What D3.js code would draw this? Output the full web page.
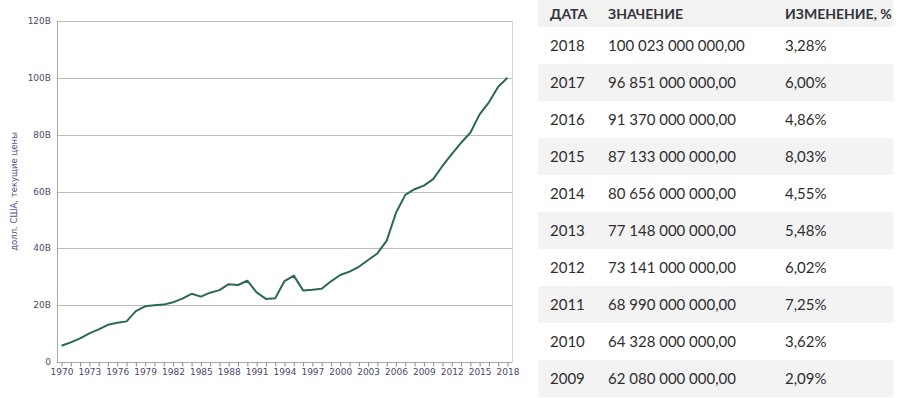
<!DOCTYPE html>
<html>
<head>
<meta charset="utf-8">
<script src="https://cdn.jsdelivr.net/npm/d3@7"></script>
<style>
  html, body { margin: 0; padding: 0; background: #fff; }
  svg { display: block; }
</style>
</head>
<body>
<div id="chart"></div>
<script>
// series, billions of US dollars (2008+ taken from the table)
var years = d3.range(1970, 2019);
var values = [
  5.7, 6.9, 8.3, 10.1, 11.5, 13.1, 13.8, 14.3, 17.9, 19.6,
  20.0, 20.2, 21.0, 22.3, 24.0, 23.0, 24.4, 25.3, 27.4, 27.1,
  28.6, 24.5, 22.2, 22.4, 28.5, 30.4, 25.2, 25.4, 25.8, 28.4,
  30.6, 31.8, 33.5, 35.9, 38.2, 42.7, 52.5, 58.8, 60.81, 62.08,
  64.33, 68.99, 73.14, 77.15, 80.66, 87.13, 91.37, 96.85, 100.02
];
var yTicks = [0, 20, 40, 60, 80, 100, 120];
var yTitle = "долл. США, текущие цены";

var tableHead = [ "ДАТА", "ЗНАЧЕНИЕ", "ИЗМЕНЕНИЕ, %" ];
var tableYears = [ 2018, 2017, 2016, 2015, 2014, 2013, 2012, 2011, 2010, 2009 ];
var tableValues = [
  100023000000, 96851000000, 91370000000, 87133000000, 80656000000,
  77148000000, 73141000000, 68990000000, 64328000000, 62080000000
];
var tableChanges = [ 3.28, 6.00, 4.86, 8.03, 4.55, 5.48, 6.02, 7.25, 3.62, 2.09 ];

var W = 900, H = 398;
var svg = d3.select("#chart").append("svg")
  .attr("width", W)
  .attr("height", H);

// ---- chart ----
var plot = { left: 57, right: 512, top: 21, bottom: 362 };

var x = d3.scaleLinear()
  .domain([ 1970, 2018 ])
  .range([ plot.left + 4.5, plot.right - 4.5 ]);
var y = d3.scaleLinear()
  .domain([ 0, 120 ])
  .range([ plot.bottom, plot.top ]);

var tickFont = "DejaVu Sans, Verdana, sans-serif";
var tickColor = "#4a4a68";

// grid
svg.append("g").selectAll("line")
  .data(yTicks)
  .join("line")
  .attr("x1", plot.left)
  .attr("x2", plot.right)
  .attr("y1", (d) => Math.round(y(d)) + 0.5)
  .attr("y2", (d) => Math.round(y(d)) + 0.5)
  .attr("stroke", (d) => d === 0 ? "#a8a8a8" : "#bdbdbd")
  .attr("stroke-width", 1);

// frame
svg.append("line")
  .attr("x1", plot.left + 0.5).attr("x2", plot.left + 0.5)
  .attr("y1", plot.top).attr("y2", plot.bottom + 0.5)
  .attr("stroke", "#a8a8a8");
svg.append("line")
  .attr("x1", plot.right + 0.5).attr("x2", plot.right + 0.5)
  .attr("y1", plot.top).attr("y2", plot.bottom + 0.5)
  .attr("stroke", "#d4d4d4");

// y labels
svg.append("g").selectAll("text")
  .data(yTicks)
  .join("text")
  .attr("x", plot.left - 6)
  .attr("y", (d) => y(d))
  .attr("dy", "0.35em")
  .attr("text-anchor", "end")
  .style("font-family", tickFont)
  .style("font-size", "9px")
  .style("fill", tickColor)
  .text((d) => d === 0 ? "0" : d + "B");

// y title
svg.append("text")
  .attr("transform", "translate(17," + (plot.top + plot.bottom) / 2 + ") rotate(-90)")
  .attr("text-anchor", "middle")
  .style("font-family", tickFont)
  .style("font-size", "8.5px")
  .style("fill", "#5b4d8c")
  .text(yTitle);

// x axis
var xAxis = d3.axisBottom(x)
  .tickValues(years)
  .tickSize(4)
  .tickPadding(2)
  .tickFormat((d) => (d - 1970) % 3 === 0 ? d : "");
var gx = svg.append("g")
  .attr("transform", "translate(0," + (plot.bottom + 0.5) + ")")
  .call(xAxis);
gx.select(".domain").remove();
gx.selectAll(".tick line").attr("stroke", "#8a8a8a");
gx.selectAll(".tick text")
  .style("font-family", tickFont)
  .style("font-size", "9px")
  .style("fill", tickColor);

// line
var line = d3.line()
  .x((d, i) => x(years[i]))
  .y((d) => y(d));
svg.append("path")
  .datum(values)
  .attr("fill", "none")
  .attr("stroke", "#2b6a4f")
  .attr("stroke-width", 2)
  .attr("stroke-linejoin", "round")
  .attr("d", line);

// ---- table ----
var ru = d3.formatLocale({
  decimal: ",",
  thousands: "\u00a0",
  grouping: [ 3 ],
  currency: [ "", "" ],
});
var fmtValue = ru.format(",.2f");
var fmtChange = ru.format(".2f");

var tab = { left: 538, right: 893, headH: 27, rowH: 37 };
var cols = [ 550, 608, 785 ];
var tableFont = "Lato, 'Open Sans', sans-serif";

svg.append("rect")
  .attr("x", tab.left)
  .attr("y", 0)
  .attr("width", tab.right - tab.left)
  .attr("height", tab.headH)
  .attr("fill", "#f2f2f0");

svg.append("g").selectAll("text")
  .data(tableHead)
  .join("text")
  .attr("x", (d, i) => cols[i])
  .attr("y", tab.headH / 2)
  .attr("dy", "0.36em")
  .style("font-family", tableFont)
  .style("font-weight", "bold")
  .style("font-size", "14px")
  .style("fill", "#34343f")
  .text((d) => d);

var rows = svg.append("g").selectAll("g")
  .data(tableYears)
  .join("g")
  .attr("transform", (d, i) => "translate(0," + (tab.headH + i * tab.rowH) + ")");

rows.filter((d, i) => i % 2 === 1)
  .append("rect")
  .attr("x", tab.left)
  .attr("y", 0)
  .attr("width", tab.right - tab.left)
  .attr("height", tab.rowH)
  .attr("fill", "#f3f3f3");

rows.each(function(d, i) {
  var cells = [ d, fmtValue(tableValues[i]), fmtChange(tableChanges[i]) + "%" ];
  d3.select(this).selectAll("text")
    .data(cells)
    .join("text")
    .attr("x", (c, j) => cols[j])
    .attr("y", tab.rowH / 2)
    .attr("dy", "0.36em")
    .style("font-family", tableFont)
    .style("font-size", "15px")
    .style("fill", "#2e2e2e")
    .text((c) => c);
});
</script>
</body>
</html>
